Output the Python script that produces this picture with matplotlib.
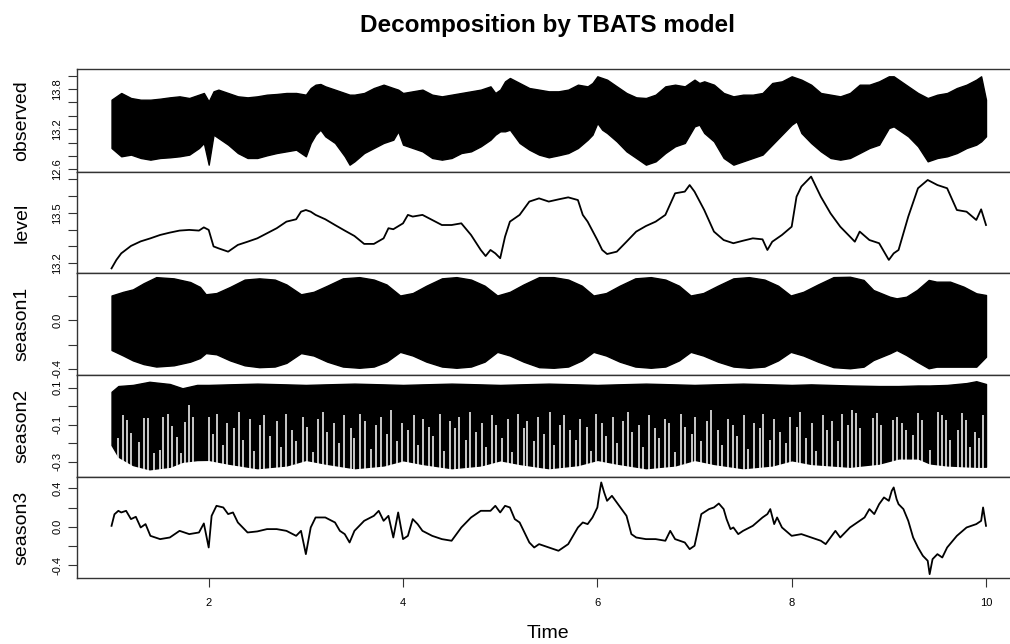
import numpy as np
import matplotlib
matplotlib.use('Agg')
import matplotlib.pyplot as plt

plt.rcParams['font.family'] = ['Liberation Sans', 'DejaVu Sans']

# ---------------- data ----------------
# observed: upper / lower envelope of the dense series
obs_t = [1.0, 1.1, 1.2, 1.3, 1.4, 1.5, 1.6, 1.7, 1.8, 1.9, 1.95, 2.0, 2.05, 2.1, 2.2, 2.3,
         2.4, 2.5, 2.6, 2.7, 2.8, 2.9, 3.0, 3.05, 3.1, 3.15, 3.2, 3.3, 3.4, 3.45, 3.5, 3.6,
         3.7, 3.8, 3.9, 3.95, 4.0, 4.1, 4.2, 4.3, 4.4, 4.5, 4.6, 4.7, 4.8, 4.9, 4.95, 5.0,
         5.05, 5.1, 5.2, 5.3, 5.4, 5.5, 5.6, 5.7, 5.8, 5.9, 5.95, 6.0, 6.05, 6.1, 6.2, 6.3,
         6.4, 6.5, 6.6, 6.7, 6.8, 6.9, 7.0, 7.05, 7.1, 7.2, 7.3, 7.4, 7.5, 7.6, 7.7, 7.8,
         7.9, 8.0, 8.05, 8.1, 8.2, 8.3, 8.4, 8.5, 8.6, 8.7, 8.8, 8.9, 9.0, 9.05, 9.1, 9.2,
         9.3, 9.4, 9.5, 9.6, 9.7, 9.8, 9.9, 9.95, 10.0]
obs_hi = [13.642, 13.742, 13.667, 13.642, 13.642, 13.657, 13.677, 13.692, 13.667, 13.717,
          13.742, 13.617, 13.767, 13.792, 13.742, 13.692, 13.677, 13.692, 13.717, 13.727,
          13.742, 13.742, 13.717, 13.816, 13.866, 13.876, 13.841, 13.792, 13.742, 13.717,
          13.717, 13.742, 13.816, 13.866, 13.816, 13.792, 13.742, 13.767, 13.792, 13.717,
          13.692, 13.717, 13.742, 13.767, 13.792, 13.841, 13.742, 13.792, 13.916, 13.966,
          13.891, 13.816, 13.792, 13.767, 13.767, 13.792, 13.866, 13.841, 13.891, 13.991,
          13.966, 13.941, 13.841, 13.742, 13.677, 13.667, 13.717, 13.841, 13.866, 13.841,
          13.941, 13.891, 13.916, 13.866, 13.742, 13.692, 13.717, 13.717, 13.742, 13.891,
          13.916, 13.991, 13.966, 13.941, 13.866, 13.742, 13.717, 13.692, 13.742, 13.866,
          13.866, 13.916, 13.991, 13.991, 13.941, 13.841, 13.742, 13.667, 13.717, 13.742,
          13.816, 13.866, 13.941, 13.991, 13.642]
obs_lo = [12.921, 12.797, 12.822, 12.772, 12.747, 12.772, 12.782, 12.797, 12.822, 12.921,
          12.996, 12.672, 13.120, 13.070, 12.971, 12.846, 12.772, 12.772, 12.812, 12.846,
          12.871, 12.896, 12.797, 12.996, 13.120, 13.194, 13.095, 12.996, 12.797, 12.672,
          12.722, 12.846, 12.921, 12.996, 13.045, 13.170, 12.971, 12.921, 12.871, 12.772,
          12.747, 12.772, 12.846, 12.871, 12.946, 13.045, 13.120, 13.170, 13.170, 13.194,
          12.996, 12.896, 12.822, 12.782, 12.812, 12.846, 12.921, 13.045, 13.120, 13.294,
          13.194, 13.145, 13.020, 12.871, 12.772, 12.672, 12.722, 12.846, 12.946, 12.996,
          13.244, 13.269, 13.145, 13.020, 12.772, 12.672, 12.722, 12.772, 12.822, 12.971,
          13.120, 13.269, 13.319, 13.145, 12.996, 12.871, 12.772, 12.747, 12.772, 12.846,
          12.921, 12.971, 13.219, 13.244, 13.194, 13.095, 12.946, 12.722, 12.772, 12.797,
          12.846, 12.921, 12.971, 13.020, 13.095]

level_t = [1.0, 1.05, 1.1, 1.2, 1.3, 1.4, 1.5, 1.6, 1.7, 1.8, 1.9, 1.95, 2.0, 2.05, 2.1,
           2.2, 2.3, 2.4, 2.5, 2.6, 2.7, 2.8, 2.9, 2.95, 3.0, 3.05, 3.1, 3.2, 3.3, 3.4, 3.5,
           3.6, 3.7, 3.8, 3.85, 3.9, 4.0, 4.05, 4.1, 4.2, 4.3, 4.4, 4.5, 4.6, 4.7, 4.8, 4.85,
           4.9, 4.95, 5.0, 5.05, 5.1, 5.2, 5.3, 5.4, 5.5, 5.6, 5.7, 5.8, 5.85, 5.9, 6.0, 6.05,
           6.1, 6.2, 6.3, 6.4, 6.5, 6.6, 6.7, 6.8, 6.9, 6.95, 7.0, 7.1, 7.2, 7.3, 7.4, 7.5,
           7.6, 7.7, 7.75, 7.8, 7.9, 8.0, 8.05, 8.1, 8.2, 8.3, 8.4, 8.5, 8.6, 8.65, 8.7, 8.8,
           8.9, 9.0, 9.05, 9.1, 9.2, 9.3, 9.4, 9.5, 9.6, 9.7, 9.8, 9.9, 9.95, 10.0]
level = [13.170, 13.220, 13.259, 13.303, 13.330, 13.348, 13.368, 13.382, 13.394, 13.398,
         13.394, 13.413, 13.398, 13.300, 13.289, 13.269, 13.309, 13.328, 13.348, 13.378,
         13.408, 13.447, 13.461, 13.506, 13.516, 13.506, 13.487, 13.461, 13.427, 13.394,
         13.362, 13.315, 13.315, 13.348, 13.408, 13.402, 13.437, 13.487, 13.477, 13.487,
         13.457, 13.427, 13.427, 13.437, 13.368, 13.279, 13.243, 13.279, 13.259, 13.230,
         13.358, 13.447, 13.487, 13.566, 13.585, 13.566, 13.579, 13.591, 13.575, 13.487,
         13.447, 13.338, 13.279, 13.255, 13.269, 13.328, 13.388, 13.421, 13.447, 13.487,
         13.615, 13.625, 13.664, 13.625, 13.516, 13.388, 13.338, 13.319, 13.334, 13.348,
         13.342, 13.279, 13.328, 13.368, 13.417, 13.595, 13.655, 13.714, 13.595, 13.496,
         13.417, 13.358, 13.328, 13.388, 13.338, 13.319, 13.220, 13.259, 13.279, 13.477,
         13.645, 13.694, 13.664, 13.645, 13.516, 13.506, 13.457, 13.520, 13.427]

# season1: envelope of the dense band
s1_t = [1.00, 1.12, 1.22, 1.33, 1.46, 1.64, 1.81, 1.91, 1.97, 2.08, 2.22, 2.37, 2.52, 2.68,
        2.80, 2.95, 3.08, 3.22, 3.38, 3.55, 3.70, 3.83, 3.97, 4.10, 4.24, 4.40, 4.55, 4.70,
        4.84, 4.97, 5.10, 5.24, 5.40, 5.55, 5.70, 5.84, 5.96, 6.09, 6.23, 6.39, 6.55, 6.70,
        6.84, 6.96, 7.09, 7.24, 7.40, 7.56, 7.72, 7.86, 7.99, 8.12, 8.27, 8.43, 8.60, 8.74,
        8.84, 9.01, 9.08, 9.18, 9.29, 9.41, 9.49, 9.63, 9.77, 9.90, 10.0]
s1_hi = [0.20, 0.23, 0.25, 0.30, 0.35, 0.34, 0.31, 0.27, 0.21, 0.22, 0.27, 0.33, 0.34, 0.33,
         0.29, 0.21, 0.23, 0.28, 0.34, 0.35, 0.33, 0.29, 0.20, 0.22, 0.28, 0.34, 0.35, 0.33,
         0.28, 0.20, 0.23, 0.29, 0.35, 0.35, 0.33, 0.28, 0.20, 0.22, 0.28, 0.34, 0.35, 0.33,
         0.28, 0.20, 0.22, 0.28, 0.34, 0.35, 0.33, 0.28, 0.20, 0.23, 0.29, 0.35, 0.353, 0.327,
         0.245, 0.19, 0.177, 0.19, 0.245, 0.327, 0.313, 0.313, 0.272, 0.218, 0.204]
s1_lo = [-0.245, -0.29, -0.33, -0.36, -0.38, -0.37, -0.34, -0.31, -0.27, -0.28, -0.33,
         -0.37, -0.385, -0.38, -0.35, -0.27, -0.29, -0.34, -0.38, -0.39, -0.38, -0.34,
         -0.26, -0.29, -0.34, -0.38, -0.39, -0.38, -0.34, -0.26, -0.29, -0.34, -0.385,
         -0.39, -0.38, -0.33, -0.26, -0.29, -0.34, -0.38, -0.39, -0.38, -0.33, -0.26,
         -0.29, -0.34, -0.38, -0.39, -0.38, -0.33, -0.26, -0.29, -0.34, -0.385, -0.394,
         -0.381, -0.327, -0.272, -0.245, -0.286, -0.340, -0.394, -0.381, -0.381, -0.381,
         -0.381, -0.30]

# season2: envelope of the dense band
s2_t = [1.0, 1.07, 1.22, 1.39, 1.6, 1.73, 1.88, 2.0, 2.2, 2.5, 2.8, 3.0, 3.2, 3.5, 3.8,
        4.0, 4.2, 4.5, 4.8, 5.0, 5.2, 5.5, 5.8, 6.0, 6.2, 6.5, 6.8, 7.0, 7.2, 7.5, 7.8,
        8.0, 8.2, 8.6, 8.9, 9.1, 9.3, 9.42, 9.6, 9.8, 9.9, 10.0]
s2_hi = [0.078, 0.109, 0.115, 0.132, 0.120, 0.097, 0.115, 0.115, 0.118, 0.122, 0.118,
         0.115, 0.118, 0.122, 0.118, 0.115, 0.118, 0.122, 0.118, 0.115, 0.118, 0.122,
         0.118, 0.115, 0.118, 0.122, 0.118, 0.115, 0.118, 0.122, 0.118, 0.115, 0.118,
         0.112, 0.109, 0.109, 0.112, 0.112, 0.115, 0.125, 0.135, 0.120]
s2_lo = [-0.210, -0.273, -0.318, -0.341, -0.327, -0.300, -0.291, -0.290, -0.310, -0.335,
         -0.320, -0.290, -0.310, -0.335, -0.320, -0.292, -0.312, -0.335, -0.320, -0.292,
         -0.312, -0.335, -0.318, -0.290, -0.310, -0.335, -0.320, -0.290, -0.312, -0.335,
         -0.320, -0.292, -0.312, -0.327, -0.310, -0.282, -0.282, -0.309, -0.320, -0.325,
         -0.327, -0.327]
# white gaps inside the season2 band (position, top of the gap)
s2_gap_t = [1.070, 1.121, 1.162, 1.197, 1.286, 1.334, 1.372, 1.437, 1.499, 1.533, 1.578,
            1.619, 1.670, 1.711, 1.756, 1.797, 1.842,
            2.00, 2.04, 2.09, 2.15, 2.19, 2.26, 2.31, 2.35, 2.42, 2.47,
            2.53, 2.57, 2.63, 2.70, 2.74, 2.80, 2.86, 2.90, 2.97, 3.01,
            3.07, 3.12, 3.18, 3.22, 3.29, 3.34, 3.39, 3.46, 3.50, 3.56,
            3.61, 3.67, 3.72, 3.77, 3.84, 3.88, 3.94, 3.99, 4.05, 4.11,
            4.15, 4.21, 4.27, 4.31, 4.38, 4.42, 4.48, 4.54, 4.58, 4.65,
            4.69, 4.75, 4.81, 4.85, 4.92, 4.96, 5.02, 5.08, 5.12, 5.18,
            5.24, 5.28, 5.35, 5.39, 5.45, 5.51, 5.55, 5.62, 5.66, 5.72,
            5.78, 5.82, 5.89, 5.93, 5.99, 6.05, 6.09, 6.16, 6.20, 6.26,
            6.32, 6.36, 6.43, 6.47, 6.53, 6.59, 6.63, 6.70, 6.74, 6.80,
            6.86, 6.90, 6.97, 7.01, 7.07, 7.13, 7.17, 7.24, 7.28, 7.34,
            7.40, 7.44, 7.51, 7.55, 7.61, 7.67, 7.71, 7.78, 7.82, 7.88,
            7.94, 7.98, 8.05, 8.09, 8.15, 8.21, 8.25, 8.32, 8.36, 8.42,
            8.48, 8.52, 8.58,
            8.617, 8.662, 8.703, 8.833, 8.874, 8.916, 9.046, 9.087, 9.132, 9.176, 9.252,
            9.303, 9.338, 9.423, 9.509, 9.543, 9.588, 9.629, 9.715, 9.749, 9.794, 9.835,
            9.886, 9.928, 9.965]
s2_gap_top = [-0.174, -0.048, -0.075, -0.147, -0.192, -0.065, -0.065, -0.255, -0.237,
              -0.057, -0.042, -0.107, -0.165, -0.255, -0.084, 0.006, -0.057,
              -0.06, -0.15, -0.04, -0.21, -0.09, -0.12, -0.03, -0.18, -0.07, -0.24,
              -0.10, -0.05, -0.16, -0.08, -0.22, -0.04, -0.13, -0.19, -0.06, -0.11,
              -0.25, -0.07, -0.03, -0.14, -0.09, -0.20, -0.05, -0.12, -0.17, -0.04,
              -0.08, -0.23, -0.10, -0.06, -0.15, -0.02, -0.19, -0.09, -0.13, -0.05,
              -0.21, -0.07, -0.11, -0.16, -0.04, -0.24, -0.08, -0.12, -0.06, -0.18,
              -0.03, -0.14, -0.09, -0.22, -0.05, -0.10, -0.17, -0.07, -0.25, -0.04,
              -0.12, -0.08, -0.19, -0.06, -0.15, -0.03, -0.21, -0.10, -0.05, -0.13,
              -0.18, -0.07, -0.11, -0.24, -0.04, -0.09, -0.16, -0.06, -0.20, -0.08,
              -0.03, -0.14, -0.10, -0.22, -0.05, -0.12, -0.17, -0.07, -0.09, -0.25,
              -0.04, -0.11, -0.15, -0.06, -0.19, -0.08, -0.02, -0.13, -0.21, -0.07,
              -0.10, -0.16, -0.05, -0.23, -0.09, -0.12, -0.04, -0.18, -0.07, -0.14,
              -0.20, -0.06, -0.11, -0.03, -0.17, -0.09, -0.24, -0.05, -0.13, -0.08,
              -0.19, -0.04, -0.10,
              -0.020, -0.038, -0.120, -0.065, -0.038, -0.100, -0.075, -0.057, -0.092,
              -0.129, -0.156, -0.038, -0.075, -0.237, -0.030, -0.048, -0.075, -0.183,
              -0.129, -0.038, -0.075, -0.219, -0.138, -0.174, -0.048]

s3_t = [1.0, 1.03, 1.07, 1.1, 1.15, 1.2, 1.25, 1.3, 1.35, 1.4, 1.5, 1.6, 1.7, 1.8, 1.9,
        1.95, 2.0, 2.03, 2.08, 2.15, 2.2, 2.25, 2.3, 2.4, 2.5, 2.6, 2.7, 2.8, 2.9, 2.95,
        3.0, 3.05, 3.1, 3.2, 3.3, 3.35, 3.4, 3.45, 3.5, 3.6, 3.7, 3.75, 3.8, 3.85, 3.9,
        3.95, 4.0, 4.05, 4.1, 4.15, 4.2, 4.3, 4.4, 4.5, 4.55, 4.6, 4.7, 4.8, 4.9, 4.95,
        5.0, 5.05, 5.1, 5.15, 5.2, 5.25, 5.3, 5.35, 5.4, 5.5, 5.6, 5.7, 5.8, 5.85, 5.9,
        5.95, 6.0, 6.02, 6.04, 6.07, 6.1, 6.15, 6.2, 6.3, 6.35, 6.4, 6.5, 6.6, 6.7, 6.75,
        6.8, 6.9, 6.95, 7.0, 7.03, 7.07, 7.15, 7.2, 7.25, 7.3, 7.33, 7.37, 7.4, 7.45, 7.5,
        7.6, 7.7, 7.75, 7.78, 7.82, 7.85, 7.9, 8.0, 8.1, 8.2, 8.3, 8.35, 8.4, 8.45, 8.5,
        8.6, 8.7, 8.75, 8.8, 8.85, 8.9, 8.95, 9.0, 9.03, 9.05, 9.08, 9.1, 9.15, 9.2, 9.25,
        9.3, 9.35, 9.4, 9.42, 9.45, 9.5, 9.55, 9.6, 9.7, 9.8, 9.9, 9.95, 9.97, 10.0]
season3 = [0.010, 0.130, 0.166, 0.149, 0.166, 0.080, 0.104, -0.007, 0.028, -0.094, -0.128,
           -0.111, -0.042, -0.076, -0.059, 0.035, -0.215, 0.114, 0.218, 0.201, 0.132, 0.149,
           0.045, -0.059, -0.048, -0.024, -0.024, -0.042, -0.094, -0.042, -0.284, -0.007,
           0.097, 0.097, 0.045, -0.042, -0.076, -0.163, -0.042, 0.062, 0.114, 0.166, 0.062,
           0.114, -0.111, 0.149, -0.128, -0.094, 0.080, 0.028, -0.042, -0.094, -0.128,
           -0.145, -0.076, -0.007, 0.097, 0.166, 0.166, 0.218, 0.149, 0.218, 0.201, 0.080,
           0.045, -0.059, -0.163, -0.215, -0.180, -0.215, -0.249, -0.180, -0.007, 0.045,
           0.028, 0.097, 0.201, 0.340, 0.461, 0.357, 0.270, 0.322, 0.253, 0.114, -0.076,
           -0.111, -0.128, -0.128, -0.145, -0.042, -0.128, -0.163, -0.232, -0.197, -0.059,
           0.132, 0.184, 0.201, 0.242, 0.184, 0.080, -0.024, -0.007, -0.076, -0.042, 0.010,
           0.097, 0.132, 0.184, 0.028, 0.097, -0.007, -0.094, -0.076, -0.111, -0.145,
           -0.180, -0.111, -0.042, -0.111, -0.007, 0.062, 0.097, 0.184, 0.132, 0.235, 0.305,
           0.270, 0.374, 0.409, 0.287, 0.235, 0.184, 0.062, -0.111, -0.215, -0.301, -0.353,
           -0.492, -0.336, -0.284, -0.319, -0.215, -0.094, -0.007, 0.028, 0.062, 0.201,
           0.010]

panel_names = ['observed', 'level', 'season1', 'season2', 'season3']
yticks = [
    ([14.0, 13.8, 13.6, 13.4, 13.2, 13.0, 12.8, 12.6], ['', '13.8', '', '', '13.2', '', '', '12.6']),
    ([13.7, 13.6, 13.5, 13.4, 13.3, 13.2], ['', '', '13.5', '', '', '13.2']),
    ([0.2, 0.0, -0.2, -0.4], ['', '0.0', '', '-0.4']),
    ([0.1, 0.0, -0.1, -0.2, -0.3], ['0.1', '', '-0.1', '', '-0.3']),
    ([0.4, 0.2, 0.0, -0.2, -0.4], ['0.4', '', '0.0', '', '-0.4']),
]
xticks = [2, 4, 6, 8, 10]

# ---------------- layout (pixels of the 1010x644 picture) ----------------
W, H = 1010, 644
left_px, right_px = 77, 1021
edges_px = [69, 172, 273, 375, 477, 578]
# two reference ticks (value, pixel row) per panel fix the y scale
yref = [((14.0, 75.7), (12.6, 169.5)),
        ((13.5, 212.7), (13.2, 263.3)),
        ((0.0, 320.0), (-0.4, 369.0)),
        ((0.1, 387.7), (-0.3, 461.7)),
        ((0.4, 488.3), (-0.4, 565.3))]
xref = ((2, 208.7), (10, 986.0))


def px_to_val(p, ref):
    (v1, p1), (v2, p2) = ref
    return v1 + (p - p1) * (v2 - v1) / (p2 - p1)


fig = plt.figure(figsize=(W / 100, H / 100), dpi=100)
axes = []
for i in range(5):
    top, bot = edges_px[i], edges_px[i + 1]
    ax = fig.add_axes([left_px / W, 1 - bot / H, (right_px - left_px) / W, (bot - top) / H])
    ax.set_xlim(px_to_val(left_px, xref), px_to_val(right_px, xref))
    ax.set_ylim(px_to_val(bot, yref[i]), px_to_val(top, yref[i]))
    vals, labs = yticks[i]
    ax.set_yticks(vals)
    ax.set_yticklabels(labs, rotation=90, va='center', fontsize=8)
    ax.tick_params(axis='y', length=6.5, width=0.8, pad=4, color='#333333')
    for s in ax.spines.values():
        s.set_linewidth(1.0)
        s.set_color('#333333')
    fig.text(22 / W, 1 - (top + bot) / 2 / H, panel_names[i], rotation=90,
             ha='center', va='center', fontsize=14)
    axes.append(ax)

for ax in axes[:-1]:
    ax.set_xticks([])
axes[-1].set_xticks(xticks)
axes[-1].set_xticklabels([str(x) for x in xticks], fontsize=8)
axes[-1].tick_params(axis='x', length=6.5, width=0.8, pad=8, color='#333333')

# observed
axes[0].fill_between(obs_t, obs_lo, obs_hi, color='black', lw=1.0)
# level
axes[1].plot(level_t, level, color='black', lw=1.3)
# season1
axes[2].fill_between(s1_t, s1_lo, s1_hi, color='black', lw=1.0)
# season2 with its white gaps
axes[3].fill_between(s2_t, s2_lo, s2_hi, color='black', lw=1.0)
gap_bottom = np.interp(s2_gap_t, s2_t, s2_lo) - 0.01
axes[3].vlines(s2_gap_t, gap_bottom, s2_gap_top, color='white', lw=1.1)
# season3
axes[4].plot(s3_t, season3, color='black', lw=1.3)

fig.text(548 / W, 1 - 32 / H, 'Decomposition by TBATS model', ha='center', va='baseline',
         fontsize=17.5, fontweight='bold')
fig.text(548 / W, 1 - 633 / H, 'Time', ha='center', va='center', fontsize=14)

fig.savefig('out.png', dpi=100)
